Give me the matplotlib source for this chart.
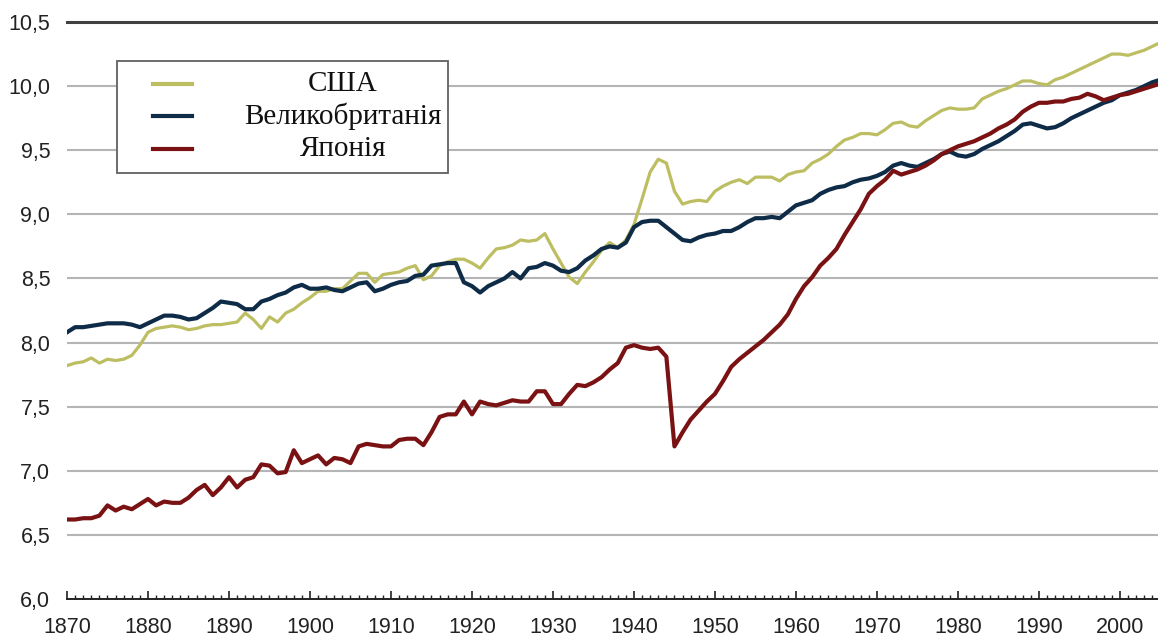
import numpy as np
import matplotlib
matplotlib.use("Agg")
import matplotlib.pyplot as plt
from matplotlib.ticker import MultipleLocator, FuncFormatter
from matplotlib.patches import Rectangle
from matplotlib.lines import Line2D

## Data (log of GDP per capita), one value per year 1870-2005
years = np.arange(1870, 2006)

usa = [7.82, 7.84, 7.85, 7.88, 7.84, 7.87, 7.86, 7.87, 7.90, 7.98,
       8.08, 8.11, 8.12, 8.13, 8.12, 8.10, 8.11, 8.13, 8.14, 8.14,
       8.15, 8.16, 8.23, 8.18, 8.11, 8.20, 8.16, 8.23, 8.26, 8.31,
       8.35, 8.40, 8.40, 8.42, 8.42, 8.48, 8.54, 8.54, 8.47, 8.53,
       8.54, 8.55, 8.58, 8.60, 8.49, 8.52, 8.60, 8.63, 8.65, 8.65,
       8.62, 8.58, 8.66, 8.73, 8.74, 8.76, 8.80, 8.79, 8.80, 8.85,
       8.73, 8.62, 8.51, 8.46, 8.55, 8.63, 8.72, 8.78, 8.74, 8.80,
       8.92, 9.12, 9.33, 9.43, 9.40, 9.18, 9.08, 9.10, 9.11, 9.10,
       9.18, 9.22, 9.25, 9.27, 9.24, 9.29, 9.29, 9.29, 9.26, 9.31,
       9.33, 9.34, 9.40, 9.43, 9.47, 9.53, 9.58, 9.60, 9.63, 9.63,
       9.62, 9.66, 9.71, 9.72, 9.69, 9.68, 9.73, 9.77, 9.81, 9.83,
       9.82, 9.82, 9.83, 9.90, 9.93, 9.96, 9.98, 10.01, 10.04, 10.04,
       10.02, 10.01, 10.05, 10.07, 10.10, 10.13, 10.16, 10.19, 10.22, 10.25,
       10.25, 10.24, 10.26, 10.28, 10.31, 10.34]

uk = [8.08, 8.12, 8.12, 8.13, 8.14, 8.15, 8.15, 8.15, 8.14, 8.12,
      8.15, 8.18, 8.21, 8.21, 8.20, 8.18, 8.19, 8.23, 8.27, 8.32,
      8.31, 8.30, 8.26, 8.26, 8.32, 8.34, 8.37, 8.39, 8.43, 8.45,
      8.42, 8.42, 8.43, 8.41, 8.40, 8.43, 8.46, 8.47, 8.40, 8.42,
      8.45, 8.47, 8.48, 8.52, 8.53, 8.60, 8.61, 8.62, 8.62, 8.47,
      8.44, 8.39, 8.44, 8.47, 8.50, 8.55, 8.50, 8.58, 8.59, 8.62,
      8.60, 8.56, 8.55, 8.58, 8.64, 8.68, 8.73, 8.75, 8.74, 8.78,
      8.90, 8.94, 8.95, 8.95, 8.90, 8.85, 8.80, 8.79, 8.82, 8.84,
      8.85, 8.87, 8.87, 8.90, 8.94, 8.97, 8.97, 8.98, 8.97, 9.02,
      9.07, 9.09, 9.11, 9.16, 9.19, 9.21, 9.22, 9.25, 9.27, 9.28,
      9.30, 9.33, 9.38, 9.40, 9.38, 9.37, 9.40, 9.43, 9.47, 9.49,
      9.46, 9.45, 9.47, 9.51, 9.54, 9.57, 9.61, 9.65, 9.70, 9.71,
      9.69, 9.67, 9.68, 9.71, 9.75, 9.78, 9.81, 9.84, 9.87, 9.89,
      9.93, 9.95, 9.97, 10.00, 10.03, 10.05]

japan = [6.62, 6.62, 6.63, 6.63, 6.65, 6.73, 6.69, 6.72, 6.70, 6.74,
         6.78, 6.73, 6.76, 6.75, 6.75, 6.79, 6.85, 6.89, 6.81, 6.87,
         6.95, 6.87, 6.93, 6.95, 7.05, 7.04, 6.98, 6.99, 7.16, 7.06,
         7.09, 7.12, 7.05, 7.10, 7.09, 7.06, 7.19, 7.21, 7.20, 7.19,
         7.19, 7.24, 7.25, 7.25, 7.20, 7.30, 7.42, 7.44, 7.44, 7.54,
         7.44, 7.54, 7.52, 7.51, 7.53, 7.55, 7.54, 7.54, 7.62, 7.62,
         7.52, 7.52, 7.60, 7.67, 7.66, 7.69, 7.73, 7.79, 7.84, 7.96,
         7.98, 7.96, 7.95, 7.96, 7.89, 7.19, 7.30, 7.40, 7.47, 7.54,
         7.60, 7.70, 7.81, 7.87, 7.92, 7.97, 8.02, 8.08, 8.14, 8.22,
         8.34, 8.44, 8.51, 8.60, 8.66, 8.73, 8.84, 8.94, 9.04, 9.16,
         9.22, 9.27, 9.34, 9.31, 9.33, 9.35, 9.38, 9.42, 9.47, 9.50,
         9.53, 9.55, 9.57, 9.60, 9.63, 9.67, 9.70, 9.74, 9.80, 9.84,
         9.87, 9.87, 9.88, 9.88, 9.90, 9.91, 9.94, 9.92, 9.89, 9.91,
         9.93, 9.94, 9.96, 9.98, 10.00, 10.02]

names = ["США", "Великобританія", "Японія"]
colors = ["#bdbe62", "#0e2c47", "#7a1214"]
widths = [2.3, 3.0, 3.0]

sans = ["Liberation Sans", "DejaVu Sans"]
serif = ["Liberation Serif", "DejaVu Serif"]

fig = plt.figure(figsize=(11.58, 6.43), dpi=100)
ax = fig.add_axes([67 / 1158, 44 / 643, 1 - 67 / 1158, 577 / 643])

# gridlines
for v in np.arange(6.5, 10.5, 0.5):
    ax.axhline(v, color="#b5b5b5", lw=1.5, zorder=1)

for s, c, w in zip([usa, uk, japan], colors, widths):
    ax.plot(years, s, color=c, lw=w, solid_joinstyle="round", zorder=3)

ax.set_xlim(1870, 2004.7)
ax.set_ylim(6.0, 10.5)

ax.spines["left"].set_visible(False)
ax.spines["right"].set_visible(False)
ax.spines["top"].set_color("#404040")
ax.spines["top"].set_linewidth(2.2)
ax.spines["bottom"].set_color("#222222")
ax.spines["bottom"].set_linewidth(1.4)

ax.xaxis.set_major_locator(MultipleLocator(10))
ax.xaxis.set_minor_locator(MultipleLocator(1))
ax.yaxis.set_major_locator(MultipleLocator(0.5))
ax.yaxis.set_major_formatter(FuncFormatter(lambda v, p: f"{v:.1f}".replace(".", ",")))

ax.tick_params(axis="x", which="major", direction="in", length=6, width=1.2,
               color="#222222", pad=13, labelsize=15.5, labelcolor="#222222")
ax.tick_params(axis="x", which="minor", direction="in", length=3, width=1,
               color="#222222")
ax.tick_params(axis="y", length=0, pad=12, labelsize=15.5, labelcolor="#222222")
for lab in ax.get_xticklabels() + ax.get_yticklabels():
    lab.set_family(sans)

# legend box drawn by hand so the labels can be centred like the original
ax.add_patch(Rectangle((0.0458, 0.738), 0.303, 0.194, transform=ax.transAxes,
                       facecolor="white", edgecolor="#606060", lw=1.3, zorder=5))
ly = [0.8925, 0.837, 0.780]
for n, c, y in zip(names, colors, ly):
    ax.add_line(Line2D([0.0788, 0.1146], [y, y], transform=ax.transAxes,
                       color=c, lw=3, zorder=6))
    ax.text(0.253, y, n, transform=ax.transAxes, ha="center", va="center",
            fontsize=21, family=serif, color="#111111", zorder=6)

fig.savefig("out.png", dpi=100)
